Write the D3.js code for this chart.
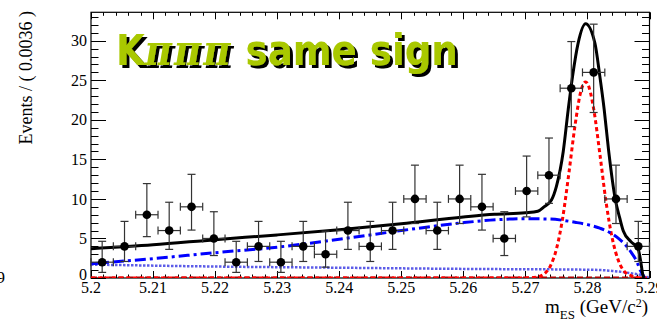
<!DOCTYPE html>
<html>
<head>
<meta charset="utf-8">
<script src="https://cdn.jsdelivr.net/npm/d3@7"></script>
<style>
  body { margin: 0; background: #fff; }
  svg { display: block; }
</style>
</head>
<body>
<svg id="chart" width="657" height="323"></svg>
<script>
(function() {

// binned data (bin width 0.0036)
const binCenters = [5.2018, 5.2054, 5.2090, 5.2126, 5.2162, 5.2198, 5.2234, 5.2270, 5.2306,
  5.2342, 5.2378, 5.2414, 5.2450, 5.2486, 5.2522, 5.2558, 5.2594, 5.2630, 5.2666, 5.2702,
  5.2738, 5.2774, 5.2810, 5.2846, 5.2882];
const events = [2, 4, 8, 6, 9, 5, 2, 4, 2, 4, 3, 6, 4, 6, 10, 6, 10, 9, 5, 11, 13, 24, 26, 10, 4];
const errLow = [0.71, 2.09, 5.23, 3.62, 6.06, 2.84, 0.71, 2.09, 0.71, 2.09, 1.37, 3.62, 2.09,
  3.62, 6.89, 3.62, 6.89, 6.06, 2.84, 7.73, 9.44, 19.14, 20.93, 6.89, 2.09];
const errHigh = [4.64, 7.16, 11.94, 9.58, 13.11, 8.38, 4.64, 7.16, 4.64, 7.16, 5.92, 9.58, 7.16,
  9.58, 14.27, 9.58, 14.27, 13.11, 8.38, 15.42, 17.70, 29.9, 32.1, 14.27, 7.16];
const halfBin = 0.0018;

// fit curves
const totalX = [5.200, 5.210, 5.220, 5.230, 5.240, 5.250, 5.260, 5.265, 5.270, 5.272, 5.273,
  5.2742, 5.275, 5.2761, 5.2769, 5.2776, 5.2785, 5.2797, 5.2812, 5.2820, 5.2827, 5.2834,
  5.2845, 5.2852, 5.2858, 5.2870, 5.2882, 5.2886, 5.2889, 5.2891];
const totalY = [3.7, 4.2, 4.85, 5.45, 6.1, 6.85, 7.7, 8.05, 8.25, 8.45, 9.0,
  9.87, 11.6, 16.0, 21.3, 25.5, 29.7, 32.15, 29.7, 25.5, 21.3, 16.2,
  9.9, 7.6, 5.9, 4.6, 3.6, 2.0, 0.5, 0];

const combX = [5.200, 5.210, 5.220, 5.230, 5.240, 5.250, 5.260, 5.266, 5.270, 5.274, 5.276,
  5.278, 5.280, 5.282, 5.2847, 5.287, 5.288, 5.2885, 5.289, 5.2892];
const combY = [1.8, 2.45, 3.2, 3.9, 4.9, 6.0, 7.0, 7.4, 7.5, 7.45, 7.3,
  7.05, 6.75, 6.3, 5.2, 3.3, 2.0, 1.0, 0.3, 0];

const bbX = [5.200, 5.220, 5.240, 5.260, 5.280, 5.284, 5.287, 5.289, 5.290];
const bbY = [1.7, 1.45, 1.3, 1.15, 1.05, 0.9, 0.6, 0.3, 0];

const sigX = [5.200, 5.266, 5.270, 5.272, 5.273, 5.274, 5.275, 5.276, 5.277, 5.278, 5.279,
  5.2797, 5.280, 5.281, 5.282, 5.283, 5.284, 5.285, 5.286, 5.287, 5.288, 5.289, 5.290];
const sigY = [0, 0, 0.01, 0.14, 0.5, 1.48, 3.65, 7.55, 13.2, 19.3, 23.8,
  24.8, 24.6, 21.4, 15.7, 9.6, 5.0, 2.17, 0.79, 0.3, 0.08, 0.02, 0];

const peakX = [5.200, 5.245, 5.290];
const peakY = [0.03, 0.03, 0.03];

const xTicks = [5.20, 5.21, 5.22, 5.23, 5.24, 5.25, 5.26, 5.27, 5.28, 5.29];
const xTickLabels = ['5.2', '5.21', '5.22', '5.23', '5.24', '5.25', '5.26', '5.27', '5.28', '5.29'];
const yTicks = [0, 5, 10, 15, 20, 25, 30];

const svg = d3.select('#chart');
const left = 91, right = 649.5, top = 12.3, bottom = 278;

const x = d3.scaleLinear().domain([5.2, 5.29]).range([left, right]);
const y = d3.scaleLinear().domain([0, 33.6]).range([bottom, top]);

const defs = svg.append('defs');
defs.append('clipPath').attr('id', 'plotclip')
  .append('rect')
    .attr('x', left).attr('y', top)
    .attr('width', right - left).attr('height', bottom - top);

// drop shadow for the title
const shadowF = defs.append('filter').attr('id', 'shadow')
  .attr('x', '-5%').attr('y', '-20%').attr('width', '110%').attr('height', '140%');
shadowF.append('feOffset').attr('in', 'SourceAlpha').attr('dx', 2.5).attr('dy', 2.2).attr('result', 'off');
const merge = shadowF.append('feMerge');
merge.append('feMergeNode').attr('in', 'off');
merge.append('feMergeNode').attr('in', 'SourceGraphic');

// axes (ticks inside, mirrored)
const xMinor = d3.range(0, 46).map(i => 5.2 + i * 0.002);
const yMinor = d3.range(0, 34);

const axisG = svg.append('g').attr('stroke', '#000').attr('stroke-width', 1);

xMinor.forEach((v, i) => {
  const len = i % 5 === 0 ? 7 : 3.5;
  const px = Math.round(x(v)) + 0.5;
  axisG.append('line').attr('x1', px).attr('x2', px).attr('y1', bottom).attr('y2', bottom - len);
  axisG.append('line').attr('x1', px).attr('x2', px).attr('y1', top).attr('y2', top + len);
});
yMinor.forEach(v => {
  const len = v % 5 === 0 ? 15 : 7.5;
  const py = Math.round(y(v)) + 0.5;
  axisG.append('line').attr('x1', left).attr('x2', left + len).attr('y1', py).attr('y2', py);
  axisG.append('line').attr('x1', right).attr('x2', right - len).attr('y1', py).attr('y2', py);
});

svg.append('rect')
  .attr('x', left).attr('y', top)
  .attr('width', right - left).attr('height', bottom - top)
  .attr('fill', 'none').attr('stroke', '#000').attr('stroke-width', 1.2);

const labelFont = '"Liberation Serif", "Times New Roman", serif';

svg.append('g').selectAll('text')
  .data(xTicks)
  .enter().append('text')
    .attr('x', d => x(d))
    .attr('y', 292.5)
    .attr('text-anchor', 'middle')
    .style('font-family', labelFont)
    .style('font-size', '16px')
    .text((d, i) => xTickLabels[i]);

svg.append('g').selectAll('text')
  .data(yTicks)
  .enter().append('text')
    .attr('x', 87)
    .attr('y', d => d === 0 ? y(d) - 4 : y(d))
    .attr('dy', '0.35em')
    .attr('text-anchor', 'end')
    .style('font-family', labelFont)
    .style('font-size', '16px')
    .text(d => d);

// stray label at the left edge
svg.append('text')
  .attr('x', 5).attr('y', 283)
  .attr('text-anchor', 'end')
  .style('font-family', labelFont)
  .style('font-size', '17px')
  .text('9');

// axis titles
svg.append('text')
  .attr('transform', 'translate(32,11) rotate(-90)')
  .attr('text-anchor', 'end')
  .style('font-family', labelFont)
  .style('font-size', '18px')
  .text('Events / ( 0.0036 )');

const xt = svg.append('text')
  .attr('x', 648).attr('y', 313)
  .attr('text-anchor', 'end')
  .style('font-family', labelFont)
  .style('font-size', '19px');
xt.append('tspan').text('m');
xt.append('tspan').attr('dy', 6).style('font-size', '13px').text('ES');
xt.append('tspan').attr('dy', -6).text(' (GeV/c');
xt.append('tspan').attr('dy', -6).style('font-size', '12px').text('2');
xt.append('tspan').attr('dy', 6).text(')');

// curves
const plot = svg.append('g').attr('clip-path', 'url(#plotclip)');
const line = d3.line()
  .x(d => x(d[0]))
  .y(d => y(d[1]))
  .curve(d3.curveMonotoneX);

const curves = [
  {xs: peakX, ys: peakY, color: '#b00000', width: 2.5, dash: '6,3'},
  {xs: bbX, ys: bbY, color: '#5c5ce8', width: 2.5, dash: '2.5,1.5'},
  {xs: sigX, ys: sigY, color: '#ff0000', width: 3, dash: '4,3'},
  {xs: combX, ys: combY, color: '#0000ff', width: 3, dash: '11,4,3,4'},
  {xs: totalX, ys: totalY, color: '#000', width: 3, dash: null}
];

curves.forEach(c => {
  plot.append('path')
    .datum(c.xs.map((v, i) => [v, c.ys[i]]))
    .attr('d', line)
    .attr('fill', 'none')
    .attr('stroke', c.color)
    .attr('stroke-width', c.width)
    .attr('stroke-dasharray', c.dash);
});

// data points with errors
const pts = svg.append('g').attr('stroke', '#333').attr('stroke-width', 1.2);
binCenters.forEach((c, i) => {
  const px = x(c), py = y(events[i]);
  const x0 = x(c - halfBin), x1 = x(c + halfBin);
  const yl = y(errLow[i]), yh = y(errHigh[i]);
  pts.append('line').attr('x1', px).attr('x2', px).attr('y1', yl).attr('y2', yh);
  pts.append('line').attr('x1', px - 4).attr('x2', px + 4).attr('y1', yl).attr('y2', yl);
  pts.append('line').attr('x1', px - 4).attr('x2', px + 4).attr('y1', yh).attr('y2', yh);
  pts.append('line').attr('x1', x0).attr('x2', x1).attr('y1', py).attr('y2', py);
  pts.append('line').attr('x1', x0).attr('x2', x0).attr('y1', py - 4).attr('y2', py + 4);
  pts.append('line').attr('x1', x1).attr('x2', x1).attr('y1', py - 4).attr('y2', py + 4);
});
pts.selectAll('circle')
  .data(events)
  .enter().append('circle')
    .attr('cx', (d, i) => x(binCenters[i]))
    .attr('cy', d => y(d))
    .attr('r', 4.3)
    .attr('fill', '#000')
    .attr('stroke', 'none');

// title, stretched a little vertically
const titleParts = [
  {t: 'K', family: '"DejaVu Sans", sans-serif', style: 'normal'},
  {t: 'πππ', family: '"DejaVu Serif", serif', style: 'italic'},
  {t: ' same sign', family: '"DejaVu Sans", sans-serif', style: 'normal'}
];
const titleG = svg.append('g').attr('transform', 'translate(116,65) scale(1,1.14)');
const title = titleG.append('text')
  .attr('x', 0).attr('y', 0)
  .attr('fill', '#a9c800')
  .attr('filter', 'url(#shadow)')
  .style('font-weight', 'bold')
  .style('font-size', '36px');
titleParts.forEach(p => {
  title.append('tspan')
    .style('font-family', p.family)
    .style('font-style', p.style)
    .attr('letter-spacing', p.t === 'πππ' ? 2 : 0)
    .text(p.t);
});
const w = title.node().getComputedTextLength();
title.style('font-size', (36 * 342 / w) + 'px');

})();
</script>
</body>
</html>
